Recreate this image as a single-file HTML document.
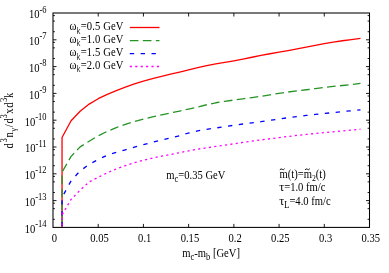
<!DOCTYPE html>
<html><head><meta charset="utf-8"><title>plot</title>
<style>
html,body{margin:0;padding:0;background:#fff;}
body{width:389px;height:273px;overflow:hidden;position:relative;font-family:"Liberation Serif",serif;}
</style></head><body>
<svg width="389" height="273" viewBox="0 0 389 273" style="position:absolute;left:0;top:0;will-change:transform">
<g fill="none" stroke-width="1.3" stroke-linejoin="round">
<path d="M62.04,227.40 L62.04,137.48 L71.09,120.79 L80.13,111.28 L89.17,104.08 L98.21,98.70 L107.26,94.33 L116.30,90.53 L125.34,87.06 L134.39,83.90 L143.43,81.06 L152.47,78.58 L161.51,76.36 L170.56,74.23 L179.60,72.10 L188.64,69.85 L197.69,67.66 L206.73,65.66 L215.77,63.93 L224.81,62.35 L233.86,60.77 L242.90,59.06 L251.94,57.25 L260.99,55.45 L270.03,53.74 L279.07,52.15 L288.11,50.58 L297.16,48.96 L306.20,47.19 L315.24,45.33 L324.29,43.58 L333.33,42.08 L342.37,40.74 L351.41,39.53 L360.46,38.44" stroke="#ff0000"/>
<path d="M62.04,227.40 L62.04,172.19 L71.09,156.39 L80.13,146.90 L89.17,141.20 L98.21,135.85 L107.26,131.36 L116.30,127.53 L125.34,124.29 L134.39,121.55 L143.43,119.13 L152.47,116.91 L161.51,114.88 L170.56,112.95 L179.60,111.02 L188.64,109.10 L197.69,107.06 L206.73,104.75 L215.77,102.76 L224.81,101.31 L233.86,100.05 L242.90,98.79 L251.94,97.55 L260.99,96.29 L270.03,94.88 L279.07,93.31 L288.11,92.00 L297.16,90.87 L306.20,89.75 L315.24,88.55 L324.29,87.38 L333.33,86.35 L342.37,85.52 L351.41,84.63 L360.46,83.30" stroke="#259425" stroke-dasharray="8.68 4.34" stroke-dashoffset="8.97"/>
<path d="M62.04,227.40 L62.04,197.49 L71.09,180.78 L80.13,170.89 L89.17,164.39 L98.21,159.48 L107.26,155.20 L116.30,152.32 L125.34,149.80 L134.39,147.17 L143.43,144.64 L152.47,142.28 L161.51,140.13 L170.56,137.99 L179.60,135.64 L188.64,133.00 L197.69,130.87 L206.73,129.36 L215.77,127.98 L224.81,126.60 L233.86,125.27 L242.90,124.00 L251.94,122.83 L260.99,121.65 L270.03,120.36 L279.07,118.97 L288.11,117.71 L297.16,116.55 L306.20,115.46 L315.24,114.45 L324.29,113.49 L333.33,112.55 L342.37,111.61 L351.41,110.73 L360.46,109.94" stroke="#0000ff" stroke-dasharray="4.34 6.51" stroke-dashoffset="9.72"/>
<path d="M62.04,227.40 L62.04,214.89 L71.09,199.39 L80.13,190.18 L89.17,181.89 L98.21,177.29 L107.26,172.78 L116.30,168.92 L125.34,165.63 L134.39,162.74 L143.43,160.23 L152.47,158.04 L161.51,156.19 L170.56,154.46 L179.60,152.66 L188.64,150.79 L197.69,149.15 L206.73,147.80 L215.77,146.48 L224.81,145.13 L233.86,143.79 L242.90,142.48 L251.94,141.19 L260.99,139.94 L270.03,138.74 L279.07,137.57 L288.11,136.47 L297.16,135.44 L306.20,134.46 L315.24,133.52 L324.29,132.64 L333.33,131.83 L342.37,131.02 L351.41,130.16 L360.46,129.17" stroke="#ff00ff" stroke-dasharray="2.17 3.25" stroke-dashoffset="3.37"/>
<path d="M129.8,27.5 L159.5,27.5" stroke="#ff0000"/>
<path d="M129.8,40.6 L159.5,40.6" stroke="#259425" stroke-dasharray="8.68 4.34"/>
<path d="M129.8,53.7 L159.5,53.7" stroke="#0000ff" stroke-dasharray="4.34 6.51"/>
<path d="M129.8,66.5 L159.5,66.5" stroke="#ff00ff" stroke-dasharray="2.17 3.25"/>
</g>
<g fill="none" stroke="#000" stroke-width="1">
<rect x="53.0" y="13.0" width="316.5" height="214.40" stroke-width="1.05"/>
<path d="M53.0,31.73 h1.9 M369.5,31.73 h-1.9 M53.0,21.07 h1.9 M369.5,21.07 h-1.9 M53.0,15.60 h1.9 M369.5,15.60 h-1.9 M53.0,39.80 h3.5 M369.5,39.80 h-3.5 M53.0,58.53 h1.9 M369.5,58.53 h-1.9 M53.0,47.87 h1.9 M369.5,47.87 h-1.9 M53.0,42.40 h1.9 M369.5,42.40 h-1.9 M53.0,66.60 h3.5 M369.5,66.60 h-3.5 M53.0,85.33 h1.9 M369.5,85.33 h-1.9 M53.0,74.67 h1.9 M369.5,74.67 h-1.9 M53.0,69.20 h1.9 M369.5,69.20 h-1.9 M53.0,93.40 h3.5 M369.5,93.40 h-3.5 M53.0,112.13 h1.9 M369.5,112.13 h-1.9 M53.0,101.47 h1.9 M369.5,101.47 h-1.9 M53.0,96.00 h1.9 M369.5,96.00 h-1.9 M53.0,120.20 h3.5 M369.5,120.20 h-3.5 M53.0,138.93 h1.9 M369.5,138.93 h-1.9 M53.0,128.27 h1.9 M369.5,128.27 h-1.9 M53.0,122.80 h1.9 M369.5,122.80 h-1.9 M53.0,147.00 h3.5 M369.5,147.00 h-3.5 M53.0,165.73 h1.9 M369.5,165.73 h-1.9 M53.0,155.07 h1.9 M369.5,155.07 h-1.9 M53.0,149.60 h1.9 M369.5,149.60 h-1.9 M53.0,173.80 h3.5 M369.5,173.80 h-3.5 M53.0,192.53 h1.9 M369.5,192.53 h-1.9 M53.0,181.87 h1.9 M369.5,181.87 h-1.9 M53.0,176.40 h1.9 M369.5,176.40 h-1.9 M53.0,200.60 h3.5 M369.5,200.60 h-3.5 M53.0,219.33 h1.9 M369.5,219.33 h-1.9 M53.0,208.67 h1.9 M369.5,208.67 h-1.9 M53.0,203.20 h1.9 M369.5,203.20 h-1.9 M98.21,227.4 v-3.5 M98.21,13.0 v3.5 M143.43,227.4 v-3.5 M143.43,13.0 v3.5 M188.64,227.4 v-3.5 M188.64,13.0 v3.5 M233.86,227.4 v-3.5 M233.86,13.0 v3.5 M279.07,227.4 v-3.5 M279.07,13.0 v3.5 M324.29,227.4 v-3.5 M324.29,13.0 v3.5" stroke-width="0.9"/>
</g>
<g font-family="Liberation Serif, serif" font-size="10.6" fill="#000">
<text transform="translate(46.6,18.40) scale(1,1.1)" text-anchor="end">10<tspan dy="-5.3" font-size="8.48">-6</tspan></text>
<text transform="translate(46.6,45.20) scale(1,1.1)" text-anchor="end">10<tspan dy="-5.3" font-size="8.48">-7</tspan></text>
<text transform="translate(46.6,72.00) scale(1,1.1)" text-anchor="end">10<tspan dy="-5.3" font-size="8.48">-8</tspan></text>
<text transform="translate(46.6,98.80) scale(1,1.1)" text-anchor="end">10<tspan dy="-5.3" font-size="8.48">-9</tspan></text>
<text transform="translate(46.6,125.60) scale(1,1.1)" text-anchor="end">10<tspan dy="-5.3" font-size="8.48">-10</tspan></text>
<text transform="translate(46.6,152.40) scale(1,1.1)" text-anchor="end">10<tspan dy="-5.3" font-size="8.48">-11</tspan></text>
<text transform="translate(46.6,179.20) scale(1,1.1)" text-anchor="end">10<tspan dy="-5.3" font-size="8.48">-12</tspan></text>
<text transform="translate(46.6,206.00) scale(1,1.1)" text-anchor="end">10<tspan dy="-5.3" font-size="8.48">-13</tspan></text>
<text transform="translate(46.6,232.80) scale(1,1.1)" text-anchor="end">10<tspan dy="-5.3" font-size="8.48">-14</tspan></text>
<text transform="translate(54.30,241.7) scale(1,1.1)" text-anchor="middle">0</text>
<text transform="translate(99.51,241.7) scale(1,1.1)" text-anchor="middle">0.05</text>
<text transform="translate(144.73,241.7) scale(1,1.1)" text-anchor="middle">0.1</text>
<text transform="translate(189.94,241.7) scale(1,1.1)" text-anchor="middle">0.15</text>
<text transform="translate(235.16,241.7) scale(1,1.1)" text-anchor="middle">0.2</text>
<text transform="translate(280.37,241.7) scale(1,1.1)" text-anchor="middle">0.25</text>
<text transform="translate(325.59,241.7) scale(1,1.1)" text-anchor="middle">0.3</text>
<text transform="translate(370.80,241.7) scale(1,1.1)" text-anchor="middle">0.35</text>
<text transform="translate(211.1,256.9) scale(1,1.1)" text-anchor="middle">m<tspan dy="3.2" font-size="8.48">c</tspan><tspan dy="-3.2">-m</tspan><tspan dy="3.2" font-size="8.48">b</tspan><tspan dy="-3.2"> [GeV]</tspan></text>
<text transform="translate(12.8,148.6) rotate(-90) scale(1,1.1)"><tspan x="0" y="0" font-size="10.60">d</tspan><tspan x="6.1" y="-5.4" font-size="8.48">3</tspan><tspan x="11.2" y="0" font-size="10.60">n</tspan><tspan x="17.2" y="3.1" font-size="7.80">γ</tspan><tspan x="21.4" y="0" font-size="10.60">/</tspan><tspan x="25.0" y="0" font-size="10.60">d</tspan><tspan x="30.0" y="-5.4" font-size="8.48">3</tspan><tspan x="34.8" y="0" font-size="10.60">x</tspan><tspan x="40.8" y="0" font-size="10.60">d</tspan><tspan x="46.6" y="-5.4" font-size="8.48">3</tspan><tspan x="50.6" y="0" font-size="10.60">k</tspan></text>
<text transform="translate(69.5,30) scale(1,1.1)" textLength="54" lengthAdjust="spacing">ω<tspan dy="3.2" font-family="Liberation Sans, sans-serif" font-size="8.78" fill="#333" textLength="3.9" lengthAdjust="spacingAndGlyphs">k</tspan><tspan dy="-3.2">=0.5 GeV</tspan></text>
<text transform="translate(69.5,42.9) scale(1,1.1)" textLength="54" lengthAdjust="spacing">ω<tspan dy="3.2" font-family="Liberation Sans, sans-serif" font-size="8.78" fill="#333" textLength="3.9" lengthAdjust="spacingAndGlyphs">k</tspan><tspan dy="-3.2">=1.0 GeV</tspan></text>
<text transform="translate(69.5,56.0) scale(1,1.1)" textLength="54" lengthAdjust="spacing">ω<tspan dy="3.2" font-family="Liberation Sans, sans-serif" font-size="8.78" fill="#333" textLength="3.9" lengthAdjust="spacingAndGlyphs">k</tspan><tspan dy="-3.2">=1.5 GeV</tspan></text>
<text transform="translate(69.5,68.7) scale(1,1.1)" textLength="54" lengthAdjust="spacing">ω<tspan dy="3.2" font-family="Liberation Sans, sans-serif" font-size="8.78" fill="#333" textLength="3.9" lengthAdjust="spacingAndGlyphs">k</tspan><tspan dy="-3.2">=2.0 GeV</tspan></text>
<text transform="translate(166.2,178.5) scale(1,1.1)" textLength="59.3" lengthAdjust="spacing">m<tspan dy="3.2" font-size="8.48">c</tspan><tspan dy="-3.2">=0.35 GeV</tspan></text>
<text transform="translate(279.5,178.1) scale(1,1.1)">m(t)=m<tspan dy="2.5" font-size="7.8">2</tspan><tspan dy="-2.5">(t)</tspan></text>
<path d="M279.8,169.9 q1.2,-1.7 2.4,-0.6 t2.4,-0.6" fill="none" stroke="#111" stroke-width="1"/>
<path d="M305.0,169.9 q1.2,-1.7 2.4,-0.6 t2.4,-0.6" fill="none" stroke="#111" stroke-width="1"/>
<text transform="translate(279.2,191.4) scale(1,1.1)"><tspan textLength="5.0" lengthAdjust="spacingAndGlyphs">τ</tspan>=1.0 fm/c</text>
<text transform="translate(279.2,204.5) scale(1,1.1)"><tspan textLength="5.0" lengthAdjust="spacingAndGlyphs">τ</tspan><tspan dy="3.2" font-size="8.48">L</tspan><tspan dy="-3.2">=4.0 fm/c</tspan></text>
</g>
</svg>
</body></html>
